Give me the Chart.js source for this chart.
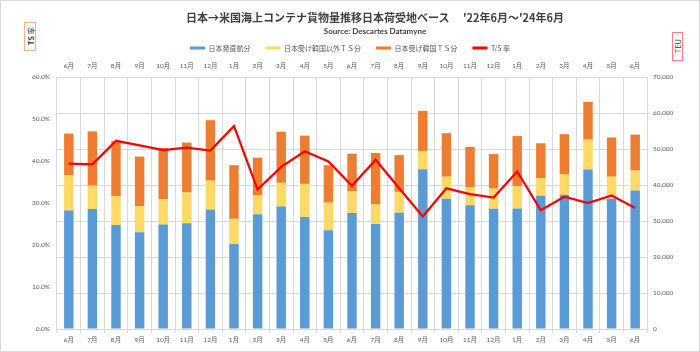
<!DOCTYPE html>
<html><head><meta charset="utf-8">
<script src="https://cdn.jsdelivr.net/npm/chart.js@4/dist/chart.umd.min.js"></script>
<style>
html,body{margin:0;padding:0;background:#fff;}
#wrap{position:relative;width:700px;height:352px;overflow:hidden;background:#fff;}
#frame{position:absolute;left:0;top:0;width:700px;height:352px;box-sizing:border-box;border:1px solid #d9d9d9;pointer-events:none;}
canvas{position:absolute;left:0;top:0;}
.t{position:absolute;white-space:nowrap;}
#title{left:186px;top:9px;font:bold 11px 'Noto Sans CJK JP',sans-serif;color:#404040;}
#sub{left:275px;width:200px;text-align:center;top:26px;font:bold 8px Lato,sans-serif;color:#404040;}
.vbox{position:absolute;box-sizing:border-box;display:flex;align-items:center;justify-content:center;background:#fff;}
.vbox span{writing-mode:vertical-rl;text-orientation:sideways;transform:rotate(180deg);font:7.5px 'Noto Sans CJK JP',sans-serif;color:#404040;white-space:nowrap;}
#ts{left:24px;top:22px;width:12px;height:29px;border:1px solid #f4b183;}
#teu{left:672px;top:32px;width:11px;height:29px;border:1px solid #ff7c80;}
</style>
</head><body>
<div id="wrap">
<canvas id="c" width="700" height="352"></canvas>
<div class="t" id="title">日本→米国海上コンテナ貨物量推移日本荷受地ベース　 '22年6月～'24年6月</div>
<div class="t" id="sub">Source: Descartes Datamyne</div>
<div class="vbox" id="ts"><span><b>TS</b> 率</span></div>
<div class="vbox" id="teu"><span>TEU</span></div>
<div id="frame"></div>
</div>
<script>
const categories = ['6月','7月','8月','9月','10月','11月','12月','1月','2月','3月','4月','5月','6月','7月','8月','9月','10月','11月','12月','1月','2月','3月','4月','5月','6月'];
const seriesNames = ['日本発直航分','日本受け韓国以外ＴＳ分','日本受け韓国ＴＳ分','T/S 率'];
const directTEU = [32900,33300,28900,26900,29000,29400,33200,23600,31900,34000,31100,27400,32200,29200,32300,44400,36200,34400,33400,33500,37000,37300,44300,36200,38500];
const tsOtherTEU = [9800,6500,8000,7200,7100,8500,8000,7000,5300,6600,9200,7700,6000,5500,5800,5000,6100,5000,5600,6100,4900,5600,8300,6100,5500];
const tsKoreaTEU = [11600,15100,15300,13800,14200,13900,16800,14900,10400,14200,13400,10400,10500,14200,10200,11200,12100,11200,9600,14000,9700,11200,10500,10900,10000];
const tsRatePct = [39.4,39.2,44.8,43.7,42.6,43.2,42.5,48.3,33.2,38.6,42.3,39.9,34.1,40.3,33.5,26.8,33.5,32.1,31.3,37.5,28.3,31.5,30.0,31.8,28.8];
const pctTicks = {min:0,max:60,step:10};
const teuTicks = {min:0,max:70000,step:10000};

Chart.defaults.font.family = "Lato, 'Noto Sans CJK JP', sans-serif";
Chart.defaults.color = '#595959';
const tickFont = {size:6.5, family:"Lato, 'Noto Sans CJK JP', sans-serif"};
const gridColor = '#d9d9d9';

new Chart(document.getElementById('c'), {
  type:'bar',
  data:{
    labels:categories,
    datasets:[
      {label:seriesNames[0],data:directTEU,backgroundColor:'#5B9BD5',yAxisID:'y2',xAxisID:'x',stack:'s',borderWidth:0,categoryPercentage:1,barPercentage:0.4},
      {label:seriesNames[1],data:tsOtherTEU,backgroundColor:'#FFD966',yAxisID:'y2',xAxisID:'x',stack:'s',borderWidth:0,categoryPercentage:1,barPercentage:0.4},
      {label:seriesNames[2],data:tsKoreaTEU,backgroundColor:'#ED7D31',yAxisID:'y2',xAxisID:'x',stack:'s',borderWidth:0,categoryPercentage:1,barPercentage:0.4},
      {type:'line',label:seriesNames[3],data:tsRatePct,borderColor:'#FF0000',backgroundColor:'#FF0000',borderWidth:2.25,pointRadius:0,tension:0,yAxisID:'y',xAxisID:'x',order:-1}
    ]
  },
  options:{
    responsive:false,
    animation:false,
    layout:{padding:{top:29.5,left:0,right:0,bottom:0}},
    plugins:{
      title:{display:false},
      tooltip:{enabled:false},
      legend:{
        position:'top',
        align:'center',
        labels:{
          boxWidth:15,boxHeight:3,padding:15,
          font:{size:7,family:"'Noto Sans CJK JP', sans-serif"},
          color:'#595959',
          sort:(a,b)=>a.datasetIndex-b.datasetIndex,
          generateLabels:(chart)=>{
            const items = Chart.defaults.plugins.legend.labels.generateLabels(chart);
            items.forEach(it=>{it.lineWidth=0;});
            return items;
          }
        }
      }
    },
    scales:{
      x:{
        position:'bottom',stacked:true,offset:true,
        grid:{color:gridColor,offset:true,drawTicks:true,tickLength:4,lineWidth:1},
        border:{display:false},
        ticks:{font:tickFont,padding:3,maxRotation:0,autoSkip:false},
        afterFit:(s)=>{s.height=23;}
      },
      x2:{
        type:'category',position:'top',offset:true,labels:categories,
        grid:{display:false,drawTicks:false,tickLength:0},
        border:{display:false},
        ticks:{font:tickFont,padding:7,maxRotation:0,autoSkip:false},
        afterFit:(s)=>{s.height=15.5;}
      },
      y:{
        position:'left',min:pctTicks.min,max:pctTicks.max,
        grid:{display:false,drawTicks:false},
        border:{display:false},
        ticks:{stepSize:pctTicks.step,font:tickFont,padding:7,callback:(v)=>Number(v).toFixed(1)+'%'},
        afterFit:(s)=>{s.width=57;}
      },
      y2:{
        position:'right',stacked:true,min:teuTicks.min,max:teuTicks.max,
        grid:{color:gridColor,drawTicks:false,lineWidth:1},
        border:{display:false},
        ticks:{stepSize:teuTicks.step,font:tickFont,padding:6,callback:(v)=>Number(v).toLocaleString('en-US')},
        afterFit:(s)=>{s.width=53;}
      }
    }
  }
});
</script>
</body></html>
